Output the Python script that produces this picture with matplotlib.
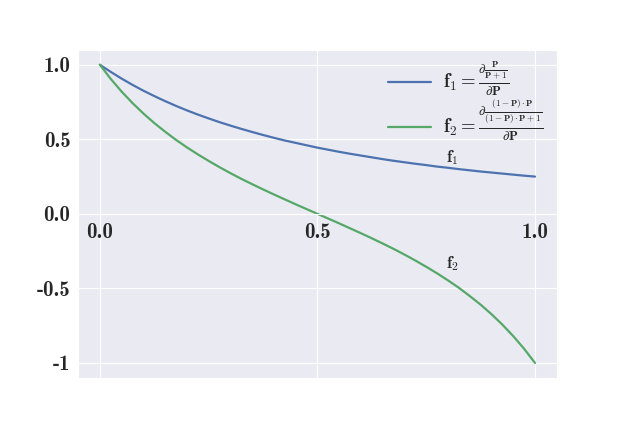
import seaborn as sns
from matplotlib import pyplot as plt

# values
p = [0.0, 0.025, 0.05, 0.075, 0.1, 0.125, 0.15, 0.175, 0.2, 0.225, 0.25,
     0.275, 0.3, 0.325, 0.35, 0.375, 0.4, 0.425, 0.45, 0.475, 0.5,
     0.525, 0.55, 0.575, 0.6, 0.625, 0.65, 0.675, 0.7, 0.725, 0.75,
     0.775, 0.8, 0.825, 0.85, 0.875, 0.9, 0.925, 0.95, 0.975, 1.0]
f1 = [1.0, 0.952, 0.907, 0.865, 0.826, 0.79, 0.756, 0.724, 0.694, 0.666, 0.64,
      0.615, 0.592, 0.57, 0.549, 0.529, 0.51, 0.492, 0.476, 0.46, 0.444,
      0.43, 0.416, 0.403, 0.391, 0.379, 0.367, 0.356, 0.346, 0.336, 0.327,
      0.317, 0.309, 0.3, 0.292, 0.284, 0.277, 0.27, 0.263, 0.256, 0.25]
f2 = [1.0, 0.905, 0.82, 0.743, 0.673, 0.609, 0.551, 0.496, 0.446, 0.399, 0.355,
      0.313, 0.273, 0.235, 0.199, 0.164, 0.13, 0.097, 0.064, 0.032, 0.0,
      -0.032, -0.064, -0.097, -0.13, -0.164, -0.199, -0.235, -0.273, -0.313, -0.355,
      -0.399, -0.446, -0.496, -0.551, -0.609, -0.673, -0.743, -0.82, -0.905, -1.0]

xticks = [0.0, 0.5, 1.0]
xlabels = ['0.0', '0.5', '1.0']
yticks = [1.0, 0.5, 0.0, -0.5, -1.0]
ylabels = ['1.0', '0.5', '0.0', '-0.5', '-1']

sns.set_style('darkgrid')
plt.rcParams['mathtext.fontset'] = 'cm'
plt.rcParams['font.family'] = ['DejaVu Sans']
plt.rcParams['axes.unicode_minus'] = False

fig = plt.figure(figsize=(6.2, 4.26), dpi=100)
ax = fig.add_axes([0.126, 0.113, 0.772, 0.77])

lab1 = r'$\mathbf{f_1} = \frac{\partial \frac{\mathbf{P}}{\mathbf{P+1}}}{\partial \mathbf{P}}$'
lab2 = (r'$\mathbf{f_2} = \frac{\partial \frac{\mathbf{(1-P)\cdot P}}'
        r'{\mathbf{(1-P)\cdot P+1}}}{\partial \mathbf{P}}$')
ax.plot(p, f1, color='#4c72b0', lw=1.6, label=lab1)
ax.plot(p, f2, color='#55a868', lw=1.6, label=lab2)

ax.text(0.81, 0.38, r'$\mathbf{f_1}$', fontsize=12, ha='center', va='center')
ax.text(0.81, -0.336, r'$\mathbf{f_2}$', fontsize=12, ha='center', va='center')

ax.set_xlim(-0.05, 1.05)
ax.set_ylim(-1.1, 1.1)
ax.spines['bottom'].set_position(('data', 0))
ax.set_xticks(xticks)
ax.set_xticklabels(xlabels, fontsize=15, fontfamily='cmb10')
ax.set_yticks(yticks)
ax.set_yticklabels(ylabels, fontsize=15, fontfamily='cmb10')
ax.tick_params(axis='x', pad=3)
ax.tick_params(axis='y', pad=2)

ax.legend(loc='upper right', frameon=False, fontsize=13.5, labelspacing=0.0,
          handlelength=2.3, handletextpad=0.65, borderpad=0.2,
          bbox_to_anchor=(1.0, 1.01))

fig.savefig('out.png', dpi=100)
